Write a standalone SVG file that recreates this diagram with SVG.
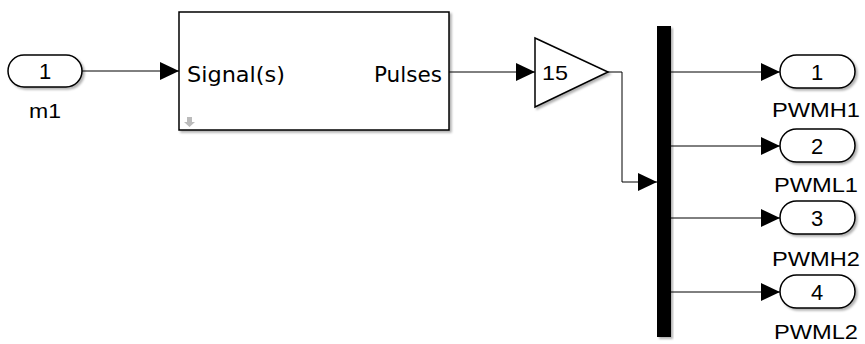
<svg xmlns="http://www.w3.org/2000/svg" width="865" height="344" viewBox="0 0 865 344">
<style>
.blk{fill:#fff;stroke:#000;stroke-width:1.5}
.wire{fill:none;stroke:#000;stroke-width:1}
.lbl{font-family:"Liberation Sans",Arial,sans-serif;font-size:21px;fill:#000}
.num{font-family:"Liberation Sans",Arial,sans-serif;font-size:22px;fill:#000;text-anchor:middle}
.port{font-family:"DejaVu Sans",Verdana,sans-serif;font-size:22px;fill:#000}
</style>
<defs>
<marker id="ah" markerWidth="19" markerHeight="18" refX="19" refY="9" orient="auto" markerUnits="userSpaceOnUse">
<path d="M0,0 L19,9 L0,18 Z" fill="#000"/>
</marker>
<filter id="ds" x="-10%" y="-10%" width="130%" height="130%">
<feDropShadow dx="2" dy="2" stdDeviation="1.2" flood-color="#000" flood-opacity="0.3"/>
</filter>
</defs>

<g id="connectors">
<path class="wire" d="M82,71 H179" marker-end="url(#ah)"/>
<path class="wire" d="M449,72 H535" marker-end="url(#ah)"/>
<path class="wire" d="M608,72 H622 V182 H657" marker-end="url(#ah)"/>
<path class="wire" d="M671,72 H780" marker-end="url(#ah)"/>
<path class="wire" d="M671,146 H780" marker-end="url(#ah)"/>
<path class="wire" d="M671,218 H780" marker-end="url(#ah)"/>
<path class="wire" d="M671,292 H780" marker-end="url(#ah)"/>
</g>

<g id="inport_m1">
<rect class="blk" x="8" y="55" width="74" height="32" rx="16" filter="url(#ds)"/>
<text class="num" x="45" y="79">1</text>
<text class="lbl" x="45" y="118" text-anchor="middle" textLength="32" lengthAdjust="spacingAndGlyphs">m1</text>
</g>

<g id="pwm_generator">
<rect class="blk" x="179" y="12" width="270" height="118" filter="url(#ds)"/>
<text class="port" x="187" y="82" textLength="98" lengthAdjust="spacingAndGlyphs">Signal(s)</text>
<text class="port" x="442" y="82" text-anchor="end" textLength="68" lengthAdjust="spacingAndGlyphs">Pulses</text>
<path d="M187,117 h5 v5 h3 l-5.5,5 l-5.5,-5 h3 z" fill="#bbb"/>
</g>

<g id="gain">
<path class="blk" d="M535,38 L608,72 L535,107 Z" filter="url(#ds)"/>
<text class="lbl" x="542" y="80" font-size="22" textLength="26" lengthAdjust="spacingAndGlyphs">15</text>
</g>

<g id="demux">
<rect x="657" y="26" width="14" height="311" fill="#000" filter="url(#ds)"/>
</g>

<g id="out_PWMH1">
<rect class="blk" x="780" y="55" width="75" height="33" rx="16.5" filter="url(#ds)"/>
<text class="num" x="817" y="80">1</text>
<text class="lbl" x="816" y="117" text-anchor="middle" textLength="88" lengthAdjust="spacingAndGlyphs">PWMH1</text>
</g>
<g id="out_PWML1">
<rect class="blk" x="780" y="129" width="75" height="33" rx="16.5" filter="url(#ds)"/>
<text class="num" x="817" y="154">2</text>
<text class="lbl" x="816" y="192" text-anchor="middle" textLength="84" lengthAdjust="spacingAndGlyphs">PWML1</text>
</g>
<g id="out_PWMH2">
<rect class="blk" x="780" y="201" width="75" height="33" rx="16.5" filter="url(#ds)"/>
<text class="num" x="817" y="226">3</text>
<text class="lbl" x="816" y="266" text-anchor="middle" textLength="88" lengthAdjust="spacingAndGlyphs">PWMH2</text>
</g>
<g id="out_PWML2">
<rect class="blk" x="780" y="275" width="75" height="33" rx="16.5" filter="url(#ds)"/>
<text class="num" x="817" y="300">4</text>
<text class="lbl" x="816" y="339" text-anchor="middle" textLength="84" lengthAdjust="spacingAndGlyphs">PWML2</text>
</g>
</svg>
